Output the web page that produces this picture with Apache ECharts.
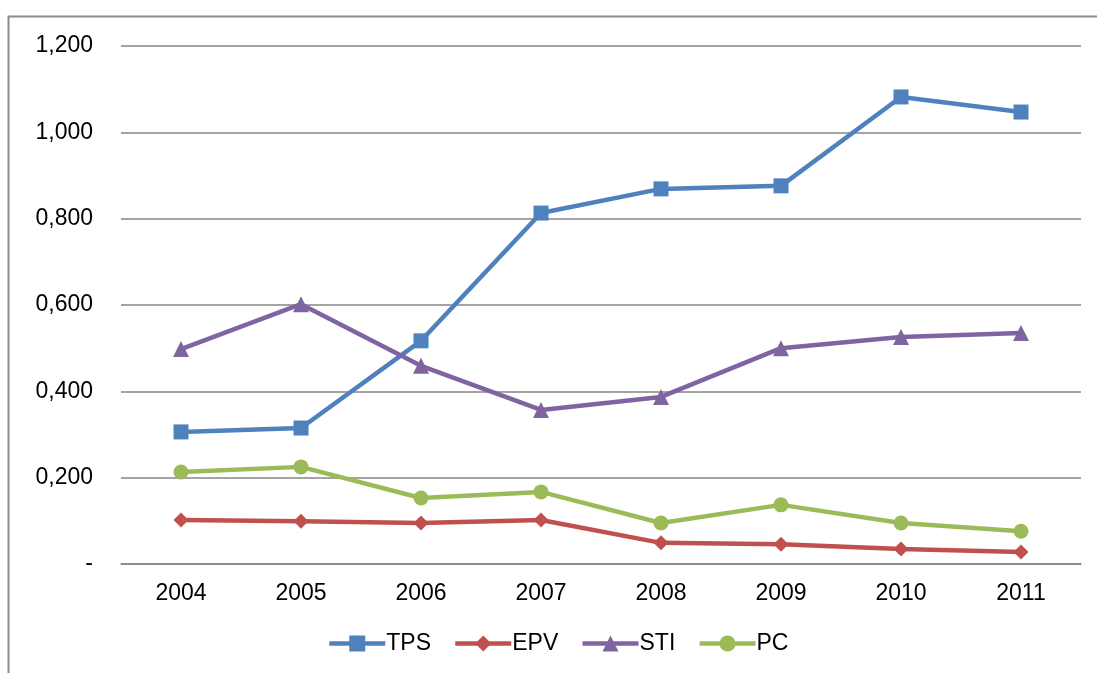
<!DOCTYPE html>
<html>
<head>
<meta charset="utf-8">
<script src="https://cdn.jsdelivr.net/npm/echarts@6/dist/echarts.min.js"></script>
<style>
  html, body { margin: 0; padding: 0; background: #fff; }
  #chart { width: 1097px; height: 673px; }
</style>
</head>
<body>
<div id="chart"></div>
<script>
  // 数据
  var years = ['2004', '2005', '2006', '2007', '2008', '2009', '2010', '2011']
  var tps = [0.306, 0.315, 0.517, 0.813, 0.869, 0.876, 1.082, 1.047]
  var epv = [0.102, 0.099, 0.095, 0.102, 0.049, 0.046, 0.035, 0.028]
  var sti = [0.498, 0.602, 0.459, 0.357, 0.387, 0.500, 0.526, 0.535]
  var pc = [0.213, 0.225, 0.153, 0.167, 0.095, 0.137, 0.095, 0.076]

  var font = 'Liberation Sans, Arial, sans-serif'

  function makeSeries(name, data, color, symbol, size) {
    return {
      name: name,
      type: 'line',
      data: data,
      symbol: symbol,
      symbolSize: size,
      lineStyle: { color: color, width: 4.5 },
      itemStyle: { color: color },
      emphasis: { disabled: true },
      z: 3
    }
  }

  var myChart = echarts.init(document.getElementById('chart'))
  var option = {
    animation: false,
    textStyle: { fontFamily: font },
    graphic: [{
      type: 'rect',
      shape: { x: 8.5, y: 16.5, width: 1200, height: 800 },
      style: { fill: 'none', stroke: '#8c8c8c', lineWidth: 2 },
      silent: true
    }],
    grid: {
      left: 121,
      right: 16,
      top: 46,
      bottom: 109,
      containLabel: false
    },
    legend: {
      bottom: 13,
      left: 322,
      itemWidth: 56,
      itemHeight: 20,
      itemGap: 22,
      lineStyle: { width: 4.5 },
      textStyle: { fontSize: 23, color: '#000', fontFamily: font, padding: [0, 0, 0, -4] },
      data: ['TPS', 'EPV', 'STI', 'PC']
    },
    xAxis: {
      type: 'category',
      data: years,
      boundaryGap: true,
      axisLine: { show: true, lineStyle: { color: '#868686', width: 1.5 } },
      axisTick: { show: false },
      axisLabel: { fontSize: 23, color: '#000', margin: 18, fontFamily: font },
      splitLine: { show: false }
    },
    yAxis: {
      type: 'value',
      min: 0,
      max: 1.2,
      interval: 0.2,
      axisLine: { show: false },
      axisTick: { show: false },
      axisLabel: {
        fontSize: 23,
        color: '#000',
        margin: 28,
        fontFamily: font,
        formatter: function (v) {
          if (Math.abs(v) < 1e-9) return '-'
          return v.toFixed(3).replace('.', ',')
        }
      },
      splitLine: { show: true, lineStyle: { color: '#868686', width: 1.5 } }
    },
    series: [
      makeSeries('TPS', tps, '#4F81BD', 'rect', 15),
      makeSeries('EPV', epv, '#C0504D', 'diamond', 15),
      makeSeries('STI', sti, '#8064A2', 'triangle', 16),
      makeSeries('PC', pc, '#9BBB59', 'circle', 15)
    ]
  }
  myChart.setOption(option, true)
</script>
</body>
</html>
